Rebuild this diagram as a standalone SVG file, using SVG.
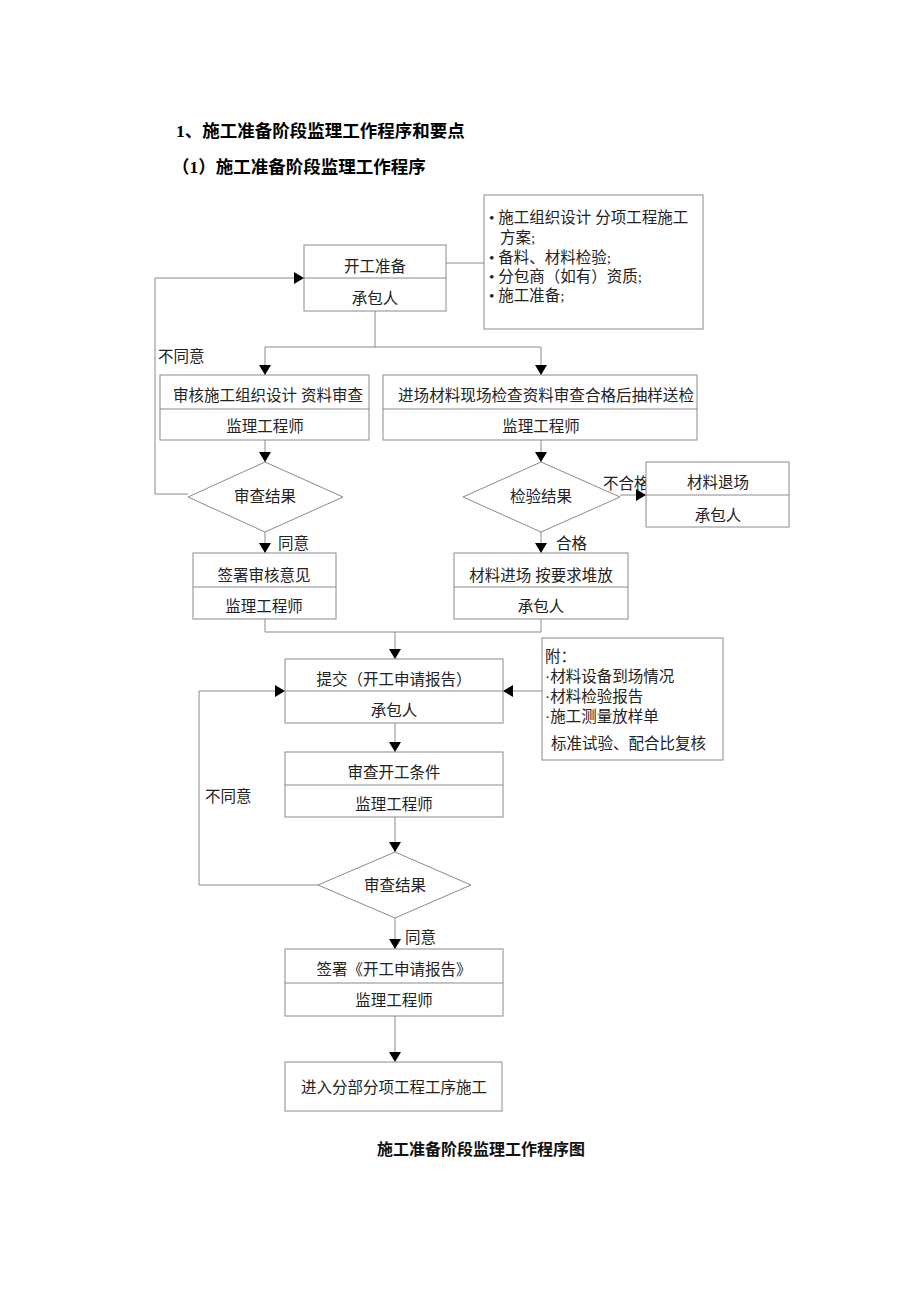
<svg xmlns="http://www.w3.org/2000/svg" width="920" height="1302" viewBox="0 0 920 1302">
<defs>
<marker id="arr" viewBox="0 0 10 12" refX="10" refY="6" markerWidth="10" markerHeight="12" markerUnits="userSpaceOnUse" orient="auto">
<path d="M0,0 L10,6 L0,12 z" fill="#000"/>
</marker>
<style>
.box{fill:#fff;stroke:#8a8a8a;stroke-width:1}
.div{stroke:#8a8a8a;stroke-width:1}
.ln{fill:none;stroke:#8a8a8a;stroke-width:1}
.ar{fill:none;stroke:#8a8a8a;stroke-width:1;marker-end:url(#arr)}
.t{font-family:"Liberation Serif","Noto Sans CJK SC",serif;font-size:15.5px;fill:#222;text-anchor:middle}
.l{font-family:"Liberation Serif","Noto Sans CJK SC",serif;font-size:15.5px;fill:#222}
.h{font-family:"Liberation Serif","Noto Sans CJK SC",serif;font-size:17.5px;font-weight:bold;fill:#000}
.cap{font-family:"Liberation Sans","Noto Sans CJK SC",sans-serif;font-size:16px;font-weight:bold;fill:#111;text-anchor:middle}
</style>
</defs>
<rect width="920" height="1302" fill="#fff"/>
<text class="h" x="176" y="137">1、施工准备阶段监理工作程序和要点</text>
<text class="h" x="172" y="173">（1）施工准备阶段监理工作程序</text>

<g id="connectors">
<line class="ln" x1="446" y1="263" x2="484" y2="263"/>
<line class="ln" x1="375" y1="311" x2="375" y2="347"/>
<line class="ln" x1="265" y1="347" x2="541" y2="347"/>
<line class="ar" x1="265" y1="347" x2="265" y2="375"/>
<line class="ar" x1="541" y1="347" x2="541" y2="375"/>
<line class="ar" x1="265" y1="440" x2="265" y2="462"/>
<line class="ar" x1="541" y1="440" x2="541" y2="462"/>
<polyline class="ar" points="188,494 155,494 155,278 304,278"/>
<line class="ar" x1="620" y1="495" x2="646" y2="495"/>
<line class="ar" x1="265" y1="532" x2="265" y2="553"/>
<line class="ar" x1="541" y1="532" x2="541" y2="553"/>
<polyline class="ln" points="265,619 265,632 541,632 541,619"/>
<line class="ar" x1="395" y1="632" x2="395" y2="659"/>
<line class="ar" x1="542" y1="691" x2="503" y2="691"/>
<polyline class="ar" points="318,885 199,885 199,691 285,691"/>
<line class="ar" x1="395" y1="723" x2="395" y2="752"/>
<line class="ar" x1="395" y1="817" x2="395" y2="852"/>
<line class="ar" x1="395" y1="918" x2="395" y2="949"/>
<line class="ar" x1="395" y1="1016" x2="395" y2="1062"/>
<text class="l" x="158" y="362">不同意</text>
<text class="l" x="603" y="489">不合格</text>
<text class="l" x="278" y="549">同意</text>
<text class="l" x="556" y="549">合格</text>
<text class="l" x="205" y="802">不同意</text>
<text class="l" x="405" y="943">同意</text>
</g>

<g id="n1">
<rect class="box" x="304" y="245" width="142" height="66"/>
<line class="div" x1="304" y1="278" x2="446" y2="278"/>
<text class="t" x="375" y="272">开工准备</text>
<text class="t" x="375" y="304">承包人</text>
</g>

<g id="note1">
<rect class="box" x="484" y="195" width="219" height="134"/>
<text class="l" x="489" y="223">• 施工组织设计 分项工程施工</text>
<text class="l" x="500" y="243">方案;</text>
<text class="l" x="489" y="263">• 备料、材料检验;</text>
<text class="l" x="489" y="282">• 分包商（如有）资质;</text>
<text class="l" x="489" y="301">• 施工准备;</text>
</g>

<g id="n2">
<rect class="box" x="160" y="375" width="209" height="65"/>
<line class="div" x1="160" y1="409" x2="369" y2="409"/>
<text class="t" x="268" y="401">审核施工组织设计 资料审查</text>
<text class="t" x="265" y="432">监理工程师</text>
</g>

<g id="n3">
<rect class="box" x="383" y="375" width="314" height="65"/>
<line class="div" x1="383" y1="409" x2="697" y2="409"/>
<text class="t" x="546" y="401" textLength="296" lengthAdjust="spacingAndGlyphs">进场材料现场检查资料审查合格后抽样送检</text>
<text class="t" x="541" y="432">监理工程师</text>
</g>

<g id="d1">
<polygon class="box" points="265,462 343,497 265,532 188,497"/>
<text class="t" x="265" y="502">审查结果</text>
</g>

<g id="d2">
<polygon class="box" points="541,462 620,497 541,532 463,497"/>
<text class="t" x="541" y="502">检验结果</text>
</g>

<g id="n4">
<rect class="box" x="646" y="462" width="143" height="65"/>
<line class="div" x1="646" y1="495" x2="789" y2="495"/>
<text class="t" x="718" y="488">材料退场</text>
<text class="t" x="718" y="521">承包人</text>
</g>

<g id="n5">
<rect class="box" x="193" y="553" width="143" height="66"/>
<line class="div" x1="193" y1="587" x2="336" y2="587"/>
<text class="t" x="264" y="581">签署审核意见</text>
<text class="t" x="264" y="612">监理工程师</text>
</g>

<g id="n6">
<rect class="box" x="454" y="553" width="174" height="66"/>
<line class="div" x1="454" y1="587" x2="628" y2="587"/>
<text class="t" x="541" y="581">材料进场 按要求堆放</text>
<text class="t" x="541" y="612">承包人</text>
</g>

<g id="n7">
<rect class="box" x="285" y="659" width="218" height="64"/>
<line class="div" x1="285" y1="691" x2="503" y2="691"/>
<text class="t" x="394" y="685">提交（开工申请报告）</text>
<text class="t" x="394" y="716">承包人</text>
</g>

<g id="note2">
<rect class="box" x="542" y="638" width="181" height="122"/>
<text class="l" x="545" y="662">附：</text>
<text class="l" x="545" y="682">·材料设备到场情况</text>
<text class="l" x="545" y="702">·材料检验报告</text>
<text class="l" x="545" y="722">·施工测量放样单</text>
<text class="l" x="551" y="749">标准试验、配合比复核</text>
</g>

<g id="n8">
<rect class="box" x="285" y="752" width="218" height="65"/>
<line class="div" x1="285" y1="785" x2="503" y2="785"/>
<text class="t" x="394" y="778">审查开工条件</text>
<text class="t" x="394" y="810">监理工程师</text>
</g>

<g id="d3">
<polygon class="box" points="395,852 471,885 395,918 318,885"/>
<text class="t" x="395" y="891">审查结果</text>
</g>

<g id="n9">
<rect class="box" x="285" y="949" width="218" height="67"/>
<line class="div" x1="285" y1="983" x2="503" y2="983"/>
<text class="t" x="394" y="975">签署《开工申请报告》</text>
<text class="t" x="394" y="1006">监理工程师</text>
</g>

<g id="n10">
<rect class="box" x="285" y="1062" width="217" height="49"/>
<text class="t" x="394" y="1093">进入分部分项工程工序施工</text>
</g>

<text class="cap" x="481" y="1155">施工准备阶段监理工作程序图</text>
</svg>
